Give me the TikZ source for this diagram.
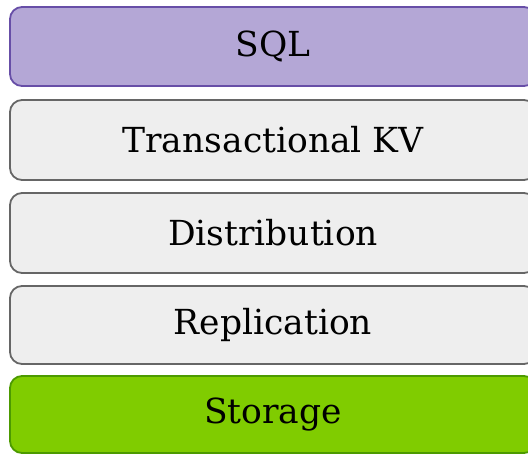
\documentclass[tikz,border=0pt]{standalone}
\usepackage{fontspec}
\setmainfont{DejaVu Serif}
\definecolor{sqlfill}{HTML}{B4A7D6}
\definecolor{sqldraw}{HTML}{674EA7}
\definecolor{layerfill}{HTML}{EEEEEE}
\definecolor{layerdraw}{HTML}{666666}
\definecolor{storefill}{HTML}{80CC00}
\definecolor{storedraw}{HTML}{4C9A00}
\tikzset{
  layer/.style={draw=layerdraw, fill=layerfill, line width=1.8pt,
    rounded corners=12pt, inner sep=0pt, minimum width=526pt,
    font=\fontsize{34.5}{40}\selectfont, text=black},
  sqllayer/.style={layer, draw=sqldraw, fill=sqlfill},
  storelayer/.style={layer, draw=storedraw, fill=storefill},
}
\begin{document}
\begin{tikzpicture}[x=1pt,y=-1pt]
  \useasboundingbox (0,0) rectangle (528,453);
  \begin{scope}
    \clip (0,0) rectangle (528,453);
    \node[sqllayer,   minimum height=79pt] (sql)   at (273,46.5)  {SQL};
    \node[layer,      minimum height=80pt] (kv)    at (273,140)   {Transactional KV};
    \node[layer,      minimum height=80pt] (dist)  at (273,233)   {Distribution};
    \node[layer,      minimum height=78pt] (repl)  at (273,325)   {Replication};
    \node[storelayer, minimum height=77pt] (store) at (273,414.5) {Storage};
  \end{scope}
\end{tikzpicture}
\end{document}
